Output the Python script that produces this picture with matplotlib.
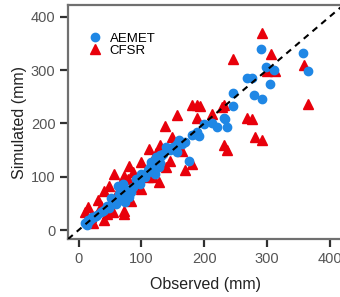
import matplotlib
matplotlib.use("Agg")
import matplotlib.pyplot as plt

aemet_obs = [358, 366, 290, 299, 312, 305, 292, 280, 269, 277, 246, 246, 231, 234, 236, 221, 213,
             192, 188, 185, 176, 169, 165, 156, 156, 150, 140, 134, 129, 124, 121, 126, 113, 116, 121,
             97, 97, 87, 84, 76, 68, 65, 63, 60, 55, 52, 72, 78, 45, 40, 35, 30, 25, 20, 17, 12, 10,
             70, 66, 58, 105, 110, 118, 132, 145, 160, 180, 200,
             74, 80, 62, 70, 115, 125, 130, 128, 100, 92, 48, 38, 28, 22, 15, 14, 117, 122, 111]
aemet_sim = [332, 298, 340, 306, 300, 273, 245, 253, 285, 285, 257, 232, 211, 209, 193, 193, 200,
             177, 184, 181, 130, 165, 162, 162, 146, 155, 155, 143, 140, 137, 130, 124, 118, 127, 115,
             87, 93, 80, 71, 68, 80, 68, 55, 49, 55, 61, 60, 75, 45, 38, 34, 29, 25, 20, 16, 12, 14,
             85, 60, 52, 100, 108, 120, 138, 150, 168, 178, 198,
             52, 62, 82, 86, 110, 132, 126, 118, 105, 95, 42, 35, 27, 24, 18, 10, 122, 106, 112]

cfsr_obs = [292, 306, 246, 359, 301, 313, 366, 181, 188, 193, 156, 188, 138, 268, 277, 212, 228,
            231, 281, 292, 231, 237, 148, 112, 129, 165, 181, 169, 100, 81, 86, 111, 128, 100, 57,
            73, 49, 41, 31, 15, 10, 72, 73, 54, 40, 23, 84, 140, 145, 60, 35, 20,
            124, 118, 95, 78, 62, 45]
cfsr_sim = [369, 331, 321, 310, 298, 298, 237, 234, 235, 232, 215, 210, 196, 211, 208, 217, 231,
            234, 174, 169, 160, 150, 175, 152, 160, 149, 124, 113, 127, 120, 108, 99, 90, 77, 105,
            102, 83, 74, 57, 43, 33, 30, 35, 33, 19, 14, 55, 118, 130, 65, 45, 25,
            145, 100, 80, 95, 70, 30]

plt.rcParams['font.family'] = ['Liberation Sans', 'DejaVu Sans']

fig = plt.figure(figsize=(3.4, 2.97), dpi=100)
ax = fig.add_axes([0.2, 0.195, 0.81, 0.788])

lim = (-17, 422)
ax.plot([lim[0], lim[1]], [lim[0], lim[1]], ls=(0, (3, 2.5)), color='black', lw=1.5, zorder=3)
ax.plot(cfsr_obs, cfsr_sim, ls='none', marker='^', ms=7, color='#e8000b', mec='#e8000b',
        label='CFSR', zorder=2)
ax.plot(aemet_obs, aemet_sim, ls='none', marker='o', ms=6, color='#1f87e5', mec='#1f87e5',
        label='AEMET', zorder=2.5)

ax.set_xlim(lim)
ax.set_ylim(lim)
ticks = [0, 100, 200, 300, 400]
ax.set_xticks(ticks)
ax.set_yticks(ticks)
for s in ax.spines.values():
    s.set_color('#707070')
    s.set_linewidth(1.6)
ax.tick_params(axis='both', colors='#303030', labelcolor='#555555', labelsize=10.5,
               length=6, width=1.6, direction='out', pad=3)
ax.set_xlabel('Observed (mm)', fontsize=11.5, color='#222222', labelpad=8)
ax.set_ylabel('Simulated (mm)', fontsize=11.5, color='#222222', labelpad=3)

h, l = ax.get_legend_handles_labels()
ax.legend([h[1], h[0]], [l[1], l[0]], loc='upper left', frameon=False, fontsize=9.5,
          handlelength=1.0, handletextpad=0.6, labelspacing=0.0,
          bbox_to_anchor=(0.055, 0.905), borderaxespad=0)

fig.savefig('out.png', dpi=100)
